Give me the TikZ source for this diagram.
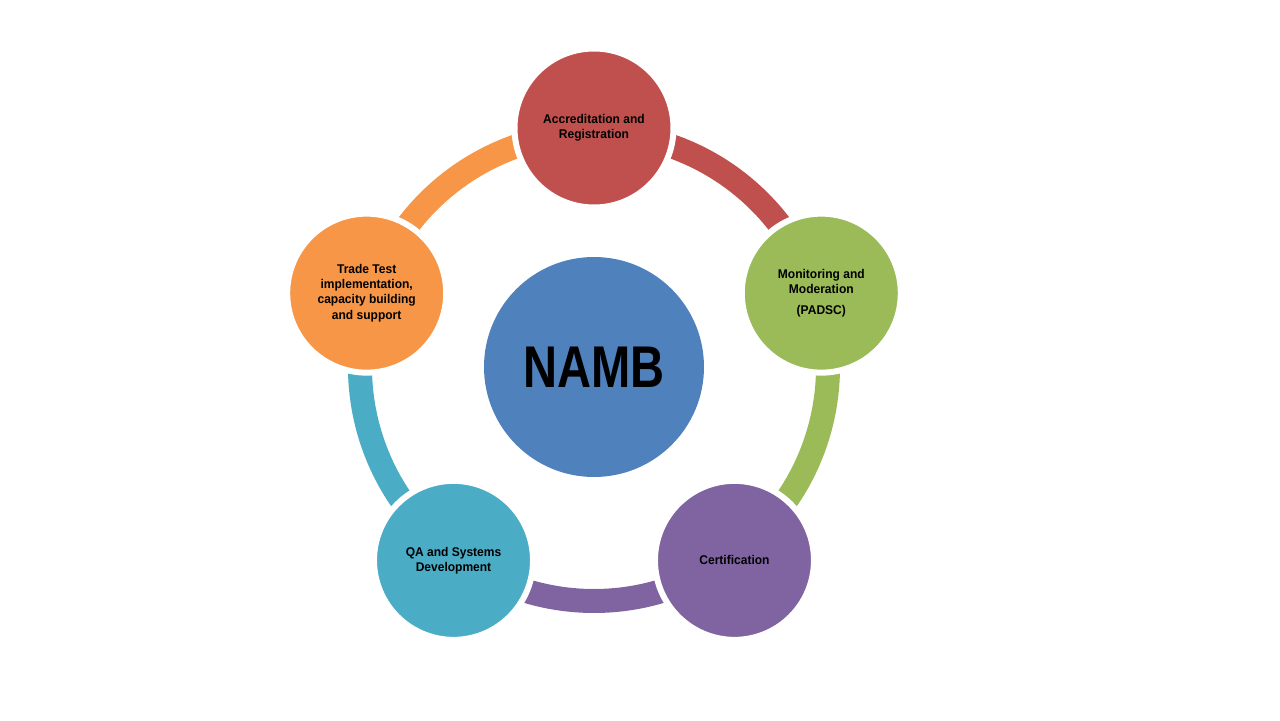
\documentclass[tikz,border=0pt]{standalone}
\usepackage{fontspec}
\setmainfont{Liberation Sans}
\newfontfamily\itemfont[FakeStretch=0.95]{Liberation Sans}
\newfontfamily\titlefont[FakeStretch=0.8]{Liberation Sans}

\definecolor{nambblue}{HTML}{4F81BD}
\definecolor{accred}{HTML}{C0504D}
\definecolor{mongreen}{HTML}{9BBB59}
\definecolor{certpurple}{HTML}{8064A2}
\definecolor{qateal}{HTML}{4BACC6}
\definecolor{tradeorange}{HTML}{F79646}

\begin{document}
\begin{tikzpicture}[
	hub/.style={circle, fill=nambblue, minimum size=4.4cm, inner sep=0pt, font=\titlefont\bfseries\fontsize{33.5}{36}\selectfont},
	item/.style={circle, draw=white, line width=0.12cm, minimum size=3.18cm, inner sep=0pt, align=center, font=\itemfont\bfseries\fontsize{7.2}{8.6}\selectfont},
	link/.style={line width=0.48cm}
]
	\useasboundingbox (-11.88,-7.06) rectangle (13.72,7.34);
	\node[hub] (namb) at (0,0) {NAMB};
	\draw[link, accred] ([shift={(90:4.68)}]namb.center) arc[start angle=90, end angle=18, radius=4.68cm];
	\draw[link, mongreen] ([shift={(18:4.68)}]namb.center) arc[start angle=18, end angle=-54, radius=4.68cm];
	\draw[link, certpurple] ([shift={(-54:4.68)}]namb.center) arc[start angle=-54, end angle=-126, radius=4.68cm];
	\draw[link, qateal] ([shift={(-126:4.68)}]namb.center) arc[start angle=-126, end angle=-198, radius=4.68cm];
	\draw[link, tradeorange] ([shift={(162:4.68)}]namb.center) arc[start angle=162, end angle=90, radius=4.68cm];
	\node[item, fill=accred] (accr) at (90:4.78) {Accreditation and\\Registration};
	\node[item, fill=mongreen] (moni) at (18:4.78) {Monitoring and\\Moderation\\[3pt](PADSC)};
	\node[item, fill=certpurple] (cert) at (-54:4.78) {Certification};
	\node[item, fill=qateal] (qasd) at (-126:4.78) {QA and Systems\\Development};
	\node[item, fill=tradeorange] (trad) at (162:4.78) {Trade Test\\implementation,\\capacity building\\and support};
\end{tikzpicture}
\end{document}
